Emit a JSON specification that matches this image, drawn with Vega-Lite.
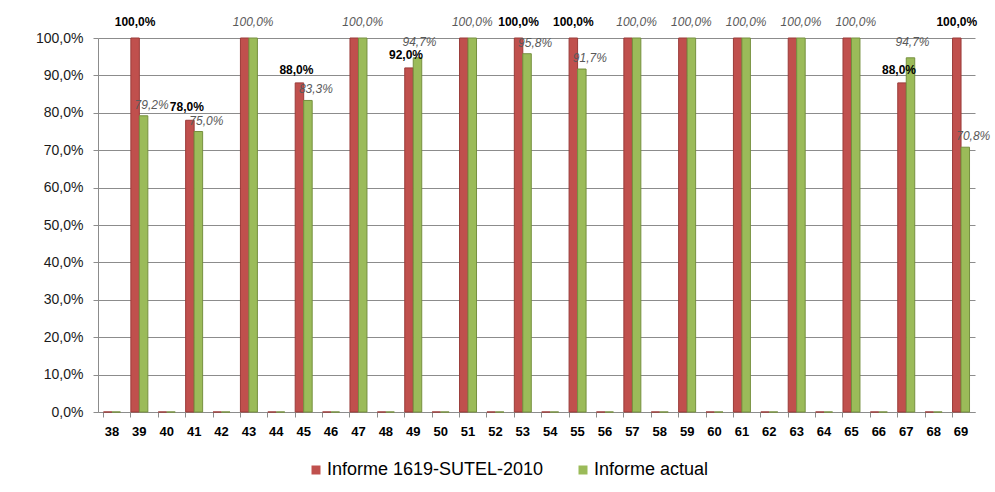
{
  "$schema": "https://vega.github.io/schema/vega-lite/v6.json",
  "width": 877,
  "height": 374,
  "autosize": {"type": "none"},
  "padding": {"left": 98, "top": 38, "right": 20, "bottom": 80},
  "background": "white",
  "config": {
    "font": "Liberation Sans",
    "view": {"stroke": null}
  },
  "data": {
    "values": [
      {"cat": "38", "serie": "Informe 1619-SUTEL-2010", "value": 0},
      {"cat": "38", "serie": "Informe actual", "value": 0},
      {"cat": "39", "serie": "Informe 1619-SUTEL-2010", "value": 100},
      {"cat": "39", "serie": "Informe actual", "value": 79.2},
      {"cat": "40", "serie": "Informe 1619-SUTEL-2010", "value": 0},
      {"cat": "40", "serie": "Informe actual", "value": 0},
      {"cat": "41", "serie": "Informe 1619-SUTEL-2010", "value": 78},
      {"cat": "41", "serie": "Informe actual", "value": 75},
      {"cat": "42", "serie": "Informe 1619-SUTEL-2010", "value": 0},
      {"cat": "42", "serie": "Informe actual", "value": 0},
      {"cat": "43", "serie": "Informe 1619-SUTEL-2010", "value": 100},
      {"cat": "43", "serie": "Informe actual", "value": 100},
      {"cat": "44", "serie": "Informe 1619-SUTEL-2010", "value": 0},
      {"cat": "44", "serie": "Informe actual", "value": 0},
      {"cat": "45", "serie": "Informe 1619-SUTEL-2010", "value": 88},
      {"cat": "45", "serie": "Informe actual", "value": 83.3},
      {"cat": "46", "serie": "Informe 1619-SUTEL-2010", "value": 0},
      {"cat": "46", "serie": "Informe actual", "value": 0},
      {"cat": "47", "serie": "Informe 1619-SUTEL-2010", "value": 100},
      {"cat": "47", "serie": "Informe actual", "value": 100},
      {"cat": "48", "serie": "Informe 1619-SUTEL-2010", "value": 0},
      {"cat": "48", "serie": "Informe actual", "value": 0},
      {"cat": "49", "serie": "Informe 1619-SUTEL-2010", "value": 92},
      {"cat": "49", "serie": "Informe actual", "value": 94.7},
      {"cat": "50", "serie": "Informe 1619-SUTEL-2010", "value": 0},
      {"cat": "50", "serie": "Informe actual", "value": 0},
      {"cat": "51", "serie": "Informe 1619-SUTEL-2010", "value": 100},
      {"cat": "51", "serie": "Informe actual", "value": 100},
      {"cat": "52", "serie": "Informe 1619-SUTEL-2010", "value": 0},
      {"cat": "52", "serie": "Informe actual", "value": 0},
      {"cat": "53", "serie": "Informe 1619-SUTEL-2010", "value": 100},
      {"cat": "53", "serie": "Informe actual", "value": 95.8},
      {"cat": "54", "serie": "Informe 1619-SUTEL-2010", "value": 0},
      {"cat": "54", "serie": "Informe actual", "value": 0},
      {"cat": "55", "serie": "Informe 1619-SUTEL-2010", "value": 100},
      {"cat": "55", "serie": "Informe actual", "value": 91.7},
      {"cat": "56", "serie": "Informe 1619-SUTEL-2010", "value": 0},
      {"cat": "56", "serie": "Informe actual", "value": 0},
      {"cat": "57", "serie": "Informe 1619-SUTEL-2010", "value": 100},
      {"cat": "57", "serie": "Informe actual", "value": 100},
      {"cat": "58", "serie": "Informe 1619-SUTEL-2010", "value": 0},
      {"cat": "58", "serie": "Informe actual", "value": 0},
      {"cat": "59", "serie": "Informe 1619-SUTEL-2010", "value": 100},
      {"cat": "59", "serie": "Informe actual", "value": 100},
      {"cat": "60", "serie": "Informe 1619-SUTEL-2010", "value": 0},
      {"cat": "60", "serie": "Informe actual", "value": 0},
      {"cat": "61", "serie": "Informe 1619-SUTEL-2010", "value": 100},
      {"cat": "61", "serie": "Informe actual", "value": 100},
      {"cat": "62", "serie": "Informe 1619-SUTEL-2010", "value": 0},
      {"cat": "62", "serie": "Informe actual", "value": 0},
      {"cat": "63", "serie": "Informe 1619-SUTEL-2010", "value": 100},
      {"cat": "63", "serie": "Informe actual", "value": 100},
      {"cat": "64", "serie": "Informe 1619-SUTEL-2010", "value": 0},
      {"cat": "64", "serie": "Informe actual", "value": 0},
      {"cat": "65", "serie": "Informe 1619-SUTEL-2010", "value": 100},
      {"cat": "65", "serie": "Informe actual", "value": 100},
      {"cat": "66", "serie": "Informe 1619-SUTEL-2010", "value": 0},
      {"cat": "66", "serie": "Informe actual", "value": 0},
      {"cat": "67", "serie": "Informe 1619-SUTEL-2010", "value": 88},
      {"cat": "67", "serie": "Informe actual", "value": 94.7},
      {"cat": "68", "serie": "Informe 1619-SUTEL-2010", "value": 0},
      {"cat": "68", "serie": "Informe actual", "value": 0},
      {"cat": "69", "serie": "Informe 1619-SUTEL-2010", "value": 100},
      {"cat": "69", "serie": "Informe actual", "value": 70.8}
    ]
  },
  "transform": [
    {"joinaggregate": [{"op": "max", "field": "value", "as": "vmax"}, {"op": "min", "field": "value", "as": "vmin"}], "groupby": ["cat"]},
    {"calculate": "replace(format(datum.value, '.1f'), '.', ',') + '%'", "as": "lbl"}
  ],
  "encoding": {
    "x": {
      "field": "cat",
      "type": "ordinal",
      "sort": "ascending",
      "scale": {"paddingInner": 0.38, "paddingOuter": 0.2},
      "axis": {
        "title": null,
        "labelAngle": 0,
        "labelFont": "Liberation Sans",
        "labelFontSize": 13,
        "labelFontWeight": "bold",
        "labelColor": "#000000",
        "labelPadding": 8,
        "tickSize": 5,
        "tickColor": "#8c8c8c",
        "domainColor": "#8c8c8c",
        "bandPosition": 0,
        "grid": false
      }
    },
    "y": {
      "field": "value",
      "type": "quantitative",
      "scale": {"domain": [0, 100], "nice": false},
      "axis": {
        "title": null,
        "values": [0, 10, 20, 30, 40, 50, 60, 70, 80, 90, 100],
        "labelExpr": "replace(format(datum.value, '.1f'), '.', ',') + '%'",
        "labelFont": "Liberation Sans",
        "labelFontSize": 14,
        "labelColor": "#1a1a1a",
        "labelPadding": 10,
        "tickSize": 5,
        "tickColor": "#8c8c8c",
        "domainColor": "#8c8c8c",
        "gridColor": "#8c8c8c",
        "gridWidth": 1,
        "gridOpacity": 1
      }
    },
    "xOffset": {
      "field": "serie",
      "type": "nominal",
      "scale": {"domain": ["Informe 1619-SUTEL-2010", "Informe actual"], "paddingInner": 0, "paddingOuter": 0}
    }
  },
  "layer": [
    {
      "mark": {"type": "bar", "strokeWidth": 1},
      "encoding": {
        "color": {
          "field": "serie",
          "type": "nominal",
          "scale": {"domain": ["Informe 1619-SUTEL-2010", "Informe actual"], "range": ["#C0504D", "#9BBB59"]},
          "legend": {
            "title": null,
            "orient": "none",
            "legendX": 209,
            "legendY": 423,
            "direction": "horizontal",
            "symbolType": "square",
            "symbolSize": 81,
            "symbolStrokeWidth": 0,
            "labelFont": "Liberation Sans",
            "labelFontSize": 18,
            "labelColor": "#000000",
            "labelOffset": 2,
            "columnPadding": 30,
            "labelLimit": 400
          }
        },
        "stroke": {
          "field": "serie",
          "type": "nominal",
          "scale": {"domain": ["Informe 1619-SUTEL-2010", "Informe actual"], "range": ["#9a3b39", "#76903f"]},
          "legend": null
        }
      }
    },
    {
      "transform": [{"filter": "datum.serie === 'Informe 1619-SUTEL-2010' && datum.vmax !== datum.vmin && datum.value === 100"}],
      "mark": {"type": "text", "baseline": "bottom", "dy": -9, "font": "Liberation Sans", "fontSize": 12, "fontWeight": "bold", "color": "#000000"},
      "encoding": {"text": {"field": "lbl"}}
    },
    {
      "transform": [{"filter": "datum.serie === 'Informe 1619-SUTEL-2010' && datum.vmax !== datum.vmin && datum.value < 100"}],
      "mark": {"type": "text", "baseline": "bottom", "dy": -6, "dx": -3, "font": "Liberation Sans", "fontSize": 12, "fontWeight": "bold", "color": "#000000"},
      "encoding": {"text": {"field": "lbl"}}
    },
    {
      "transform": [{"filter": "datum.serie === 'Informe actual' && datum.value === 100"}],
      "mark": {"type": "text", "baseline": "bottom", "dy": -9, "font": "Liberation Sans", "fontSize": 12, "fontStyle": "italic", "color": "#595959"},
      "encoding": {"text": {"field": "lbl"}}
    },
    {
      "transform": [{"filter": "datum.serie === 'Informe actual' && datum.value > 0 && datum.value < 100 && datum.value < datum.vmax"}],
      "mark": {"type": "text", "baseline": "bottom", "dy": -4, "dx": 8, "font": "Liberation Sans", "fontSize": 12, "fontStyle": "italic", "color": "#595959"},
      "encoding": {"text": {"field": "lbl"}}
    },
    {
      "transform": [{"filter": "datum.serie === 'Informe actual' && datum.value > 0 && datum.value < 100 && datum.value === datum.vmax"}],
      "mark": {"type": "text", "baseline": "bottom", "dy": -9, "dx": 2, "font": "Liberation Sans", "fontSize": 12, "fontStyle": "italic", "color": "#595959"},
      "encoding": {"text": {"field": "lbl"}}
    }
  ]
}
